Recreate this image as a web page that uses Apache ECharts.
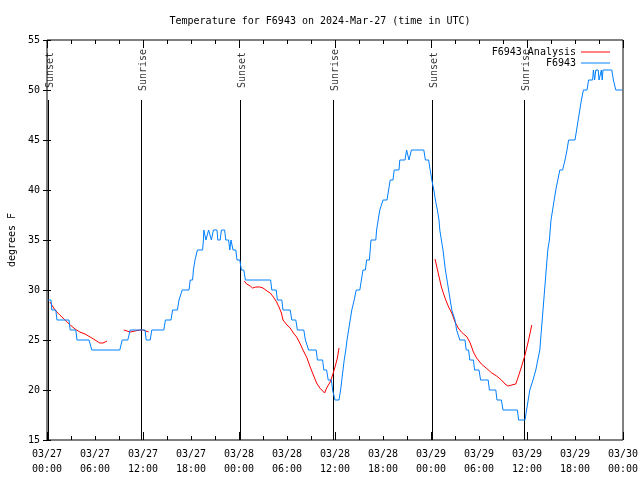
<!DOCTYPE html>
<html>
<head>
<meta charset="utf-8">
<script src="https://cdn.jsdelivr.net/npm/echarts@6/dist/echarts.min.js"></script>
<style>html,body{margin:0;padding:0;background:#fff}#c{width:640px;height:480px}</style>
</head>
<body>
<div id="c"></div>
<script>
// Hours since 2024-03-27 00:00 UTC
const dayLabels = ['03/27', '03/28', '03/29', '03/30'];
const yTicks = [15, 20, 25, 30, 35, 40, 45, 50, 55];

const sunEventTimes = [0.2, 11.83, 24.15, 35.8, 48.17, 59.67];
const sunEventNames = ['Sunset', 'Sunrise', 'Sunset', 'Sunrise', 'Sunset', 'Sunrise'];

const obsTimes = [
  0.1,0.5,0.6,1.1,1.25,2.75,2.9,3.6,3.75,5.25,5.6,9.1,9.4,10.1,10.4,12.25,12.4,12.9,13.1,
  14.6,14.8,15.5,15.7,16.3,16.5,16.7,16.9,17.75,17.9,18.2,18.3,18.5,18.8,19.45,19.55,19.6,
  19.87,20.1,20.2,20.4,20.55,20.8,21.25,21.35,21.65,21.8,22.2,22.35,22.7,22.85,23.0,23.1,
  23.25,23.6,23.75,24.1,24.3,24.6,24.8,
  27.95,28.1,28.65,28.8,29.35,29.5,30.4,30.6,31.1,31.3,32.1,32.3,32.55,32.7,33.65,33.8,
  34.45,34.6,34.95,35.15,35.55,35.7,35.85,36.0,36.5,36.7,36.85,37.0,37.15,37.35,37.5,37.7,
  37.9,38.1,38.4,38.65,39.1,39.3,39.5,39.8,39.95,40.3,40.4,40.5,41.1,41.2,41.4,41.6,41.85,
  42.0,42.5,42.7,42.9,43.25,43.4,44.0,44.1,44.75,44.95,45.15,45.25,45.4,45.55,47.1,47.3,
  47.7,47.9,48.1,48.35,48.55,48.8,49.0,49.1,49.3,49.5,49.65,49.8,50.0,50.2,50.4,50.6,50.85,
  51.0,51.2,51.45,51.6,52.25,52.4,52.7,52.85,53.3,53.45,54.0,54.2,55.15,55.3,56.1,56.25,
  56.8,57.0,58.8,58.95,59.75,59.95,60.15,60.35,60.75,61.1,61.35,61.6,61.8,62.0,62.2,62.4,
  62.6,62.8,63.0,63.2,63.4,63.6,63.85,64.1,64.45,64.75,65.0,65.2,66.0,66.2,66.4,66.6,66.8,
  67.05,67.5,67.7,68.2,68.3,68.45,68.6,68.9,69.0,69.2,69.3,69.4,69.5,70.6,70.8,71.1,71.9
];
const obsTemps = [
  29,29,28,28,27,27,26,26,25,25,24,24,25,25,26,26,25,25,26,
  26,27,27,28,28,29,29,30,30,31,31,32,33,34,34,35,36,
  35,35,36,36,35,36,36,35,35,36,36,35,35,34,35,35,
  34,34,33,33,32,32,31,
  31,30,30,29,29,28,28,27,27,26,26,25,25,24,24,23,
  23,22,22,21,21,20,20,19,19,20,21,22,23,24,25,26,
  27,28,29,30,30,31,32,32,33,33,34,35,35,36,37,38,38,
  39,39,40,41,41,42,42,43,43,44,44,43,43,44,44,43,
  43,42,41,40,39,38,37,36,35,34,33,32,31,30,29,28,28,
  27,26,26,25,25,24,24,23,23,22,22,21,21,20,20,19,
  19,18,18,17,17,18,19,20,21,22,23,24,26,28,30,32,
  34,35,37,38,39,40,41,42,42,43,44,45,45,46,47,48,49,
  50,50,51,51,52,51,52,52,51,51,52,51,52,52,51,50,50
];

const anaTimes1 = [0.375,0.6,1.0,1.6,2.25,2.9,3.5,4.1,4.75,5.4,6.0,6.6,7.0,7.5];
const anaTemps1 = [28.8,28.5,28.0,27.5,27.0,26.5,26.1,25.8,25.6,25.3,25.0,24.7,24.7,24.9];
const anaTimes2 = [9.6,10.4,11.0,11.6,12.0,12.25,12.7];
const anaTemps2 = [26.0,25.8,25.9,26.0,26.0,25.8,25.8];
const anaTimes3 = [24.66,24.96,25.4,25.7,26.1,26.6,27.0,27.5,27.9,28.3,28.7,29.0,29.3,29.5,30.0,
  30.4,30.8,31.2,31.6,32.0,32.5,32.9,33.3,33.7,34.1,34.7,34.96,35.4,35.7,36.0,36.3,36.5];
const anaTemps3 = [30.9,30.6,30.4,30.2,30.3,30.3,30.2,29.9,29.7,29.3,28.8,28.3,27.7,27.0,26.5,
  26.2,25.7,25.3,24.7,24.0,23.2,22.3,21.5,20.7,20.2,19.7,20.2,20.8,21.5,22.3,23.2,24.2];
const anaTimes4 = [48.5,48.9,49.3,49.75,50.2,50.6,51.0,51.4,51.8,52.5,52.9,53.3,53.7,54.3,54.9,
  55.6,56.2,56.8,57.25,57.6,58.1,58.6,58.9,59.3,59.75,60.2,60.6];
const anaTemps4 = [33.1,31.7,30.3,29.2,28.3,27.7,26.8,26.2,25.8,25.3,24.7,23.8,23.2,22.6,22.2,
  21.7,21.4,21.0,20.6,20.4,20.5,20.6,21.3,22.3,23.5,25.0,26.5];

const FONT = 'DejaVu Sans Mono';
const pair = (ts, vs) => ts.map((t, i) => [t, vs[i]]);
const obsData = pair(obsTimes, obsTemps);
const anaData = [].concat(
  pair(anaTimes1, anaTemps1), ['-'],
  pair(anaTimes2, anaTemps2), ['-'],
  pair(anaTimes3, anaTemps3), ['-'],
  pair(anaTimes4, anaTemps4)
);

function xLabel(v) {
  const d = Math.floor(v / 24);
  const h = Math.round(v - d * 24);
  return dayLabels[d] + '\n' + (h < 10 ? '0' : '') + h + ':00';
}

const baseX = {
  type: 'value', min: 0, max: 72, gridIndex: 0,
  axisLine: { show: false }, splitLine: { show: false }
};
const baseY = {
  type: 'value', min: yTicks[0], max: yTicks[yTicks.length - 1], interval: 5,
  axisLine: { show: false }, splitLine: { show: false },
  axisTick: { show: true, inside: true, length: 4, lineStyle: { color: '#000' } }
};

const legendBase = {
  right: 30, align: 'right', orient: 'vertical', icon: 'rect',
  itemWidth: 29, itemHeight: 1, itemGap: 0, padding: 0,
  textStyle: { fontFamily: FONT, fontSize: 10, color: '#000' }
};

const chart = echarts.init(document.getElementById('c'), null, { renderer: 'canvas' });
chart.setOption({
  animation: false,
  backgroundColor: '#fff',
  title: {
    text: 'Temperature for F6943 on 2024-Mar-27 (time in UTC)',
    left: 'center', top: 11,
    textStyle: { fontFamily: FONT, fontSize: 10, fontWeight: 'normal', color: '#000' }
  },
  legend: [
    Object.assign({}, legendBase, { data: ['F6943 Analysis'], top: 47 }),
    Object.assign({}, legendBase, { data: ['F6943'], top: 58 })
  ],
  grid: {
    left: 47, right: 17, top: 40, bottom: 40, outerBoundsMode: 'none', containLabel: false,
    show: true, borderColor: '#000', borderWidth: 1, backgroundColor: '#fff'
  },
  xAxis: [
    Object.assign({}, baseX, {
      position: 'bottom', interval: 6,
      axisTick: { show: true, inside: true, length: 4, lineStyle: { color: '#000' } },
      minorTick: { show: true, splitNumber: 2, length: 4, lineStyle: { color: '#000' } },
      axisLabel: { formatter: xLabel, fontFamily: FONT, fontSize: 10, color: '#000', lineHeight: 15, margin: 7 }
    }),
    Object.assign({}, baseX, {
      position: 'bottom', interval: 12, axisLabel: { show: false },
      axisTick: { show: true, inside: true, length: 8, lineStyle: { color: '#000' } }
    }),
    Object.assign({}, baseX, {
      position: 'top', interval: 6, axisLabel: { show: false },
      axisTick: { show: true, inside: true, length: 4, lineStyle: { color: '#000' } },
      minorTick: { show: true, splitNumber: 2, length: 4, lineStyle: { color: '#000' } }
    }),
    Object.assign({}, baseX, {
      position: 'top', interval: 12, axisLabel: { show: false },
      axisTick: { show: true, inside: true, length: 8, lineStyle: { color: '#000' } }
    })
  ],
  yAxis: [
    Object.assign({}, baseY, {
      position: 'left',
      name: 'degrees F', nameLocation: 'middle', nameGap: 30, nameRotate: 90,
      nameTextStyle: { fontFamily: FONT, fontSize: 10, color: '#000' },
      axisLabel: { fontFamily: FONT, fontSize: 10, color: '#000', margin: 7 }
    }),
    Object.assign({}, baseY, { position: 'right', axisLabel: { show: false } })
  ],
  series: [
    {
      type: 'scatter', silent: true, z: 1,
      data: sunEventTimes.map(t => [t, 52]),
      symbolSize: 1, itemStyle: { color: 'rgba(0,0,0,0)' },
      label: {
        show: true, position: 'inside', rotate: 90, offset: [0, 2],
        formatter: p => sunEventNames[p.dataIndex],
        fontFamily: FONT, fontSize: 10, color: '#000'
      }
    },
    {
      name: 'F6943 Analysis', type: 'line', data: anaData,
      showSymbol: false, symbol: 'none', connectNulls: false,
      lineStyle: { color: '#ff0000', width: 1 }, itemStyle: { color: '#ff0000' },
      markLine: {
        silent: true, symbol: 'none', z: 1, animation: false,
        label: { show: false },
        lineStyle: { color: '#000', width: 1, type: 'solid' },
        data: sunEventTimes.map(t => [{ coord: [t, 15] }, { coord: [t, 49] }])
      }
    },
    {
      name: 'F6943', type: 'line', data: obsData,
      showSymbol: false, symbol: 'none',
      lineStyle: { color: '#0080ff', width: 1 }, itemStyle: { color: '#0080ff' }
    }
  ]
});
</script>
</body>
</html>
